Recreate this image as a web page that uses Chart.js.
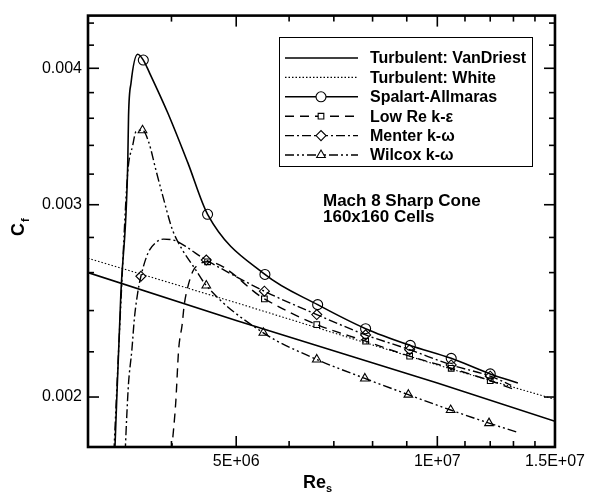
<!DOCTYPE html>
<html>
<head>
<meta charset="utf-8">
<script src="https://cdn.jsdelivr.net/npm/chart.js@4.4.1/dist/chart.umd.min.js"></script>
<style>
  html, body { margin: 0; padding: 0; background: #fff; }
</style>
</head>
<body>
<canvas id="chartCf" width="590" height="494"></canvas>
<script>
// axis ticks
const xMajorTicks = [5e6, 1e7, 1.5e7];
const xTickLabels = ['5E+06', '1E+07', '1.5E+07'];
const xMinorTicks = [4e6, 6e6, 7e6, 8e6, 9e6, 1.1e7, 1.2e7, 1.3e7, 1.4e7];
const yMajorTicks = [0.002, 0.003, 0.004];
const yTickLabels = ['0.002', '0.003', '0.004'];
const yMinorTicks = [0.0022, 0.0024, 0.0026, 0.0028, 0.0032, 0.0034, 0.0036, 0.0038, 0.0042, 0.0044];

const seriesNames = ['Turbulent: VanDriest', 'Turbulent: White', 'Spalart-Allmaras', 'Low Re k-\u03b5', 'Menter k-\u03c9', 'Wilcox k-\u03c9'];

// correlations
const vanDriestRe = [3.0e6, 5.0e6, 1.0e7, 1.5e7];
const vanDriestCf = [0.00260, 0.00235, 0.00206, 0.00190];
const whiteRe = [3.0e6, 5.0e6, 1.0e7, 1.5e7];
const whiteCf = [0.00268, 0.00244, 0.00214, 0.00199];

// Spalart-Allmaras
const saRe = [3.29e6, 3.36e6, 3.44e6, 3.45e6, 3.48e6, 3.56e6, 3.63e6, 3.71e6, 3.95e6, 4.23e6, 4.53e6, 5.52e6, 6.62e6, 7.81e6, 9.11e6, 1.049e7, 1.20e7, 1.32e7];
const saCf = [0.00178, 0.00249, 0.00326, 0.00362, 0.00388, 0.00412, 0.00407, 0.00396, 0.00364, 0.00328, 0.00294, 0.00259, 0.00243, 0.00231, 0.00223, 0.00217, 0.00210, 0.00206];
const saMarkRe = [3.63e6, 4.53e6, 5.52e6, 6.62e6, 7.81e6, 9.11e6, 1.049e7, 1.20e7];
const saMarkCf = [0.00407, 0.00294, 0.00259, 0.00243, 0.00231, 0.00223, 0.00217, 0.00210];

// Low Re k-eps
const lowReRe = [4.00e6, 4.06e6, 4.10e6, 4.15e6, 4.18e6, 4.23e6, 4.31e6, 4.42e6, 4.53e6, 5.51e6, 6.60e6, 7.81e6, 9.09e6, 1.049e7, 1.20e7, 1.31e7];
const lowReCf = [0.00178, 0.00198, 0.00221, 0.00233, 0.00243, 0.00252, 0.00261, 0.00265, 0.00266, 0.00246, 0.00233, 0.00225, 0.00218, 0.002125, 0.00207, 0.00203];
const lowReMarkRe = [4.53e6, 5.51e6, 6.60e6, 7.81e6, 9.09e6, 1.049e7, 1.20e7];
const lowReMarkCf = [0.00266, 0.00246, 0.00233, 0.00225, 0.00218, 0.002125, 0.00207];

// Menter k-w
const menterRe = [3.41e6, 3.43e6, 3.45e6, 3.49e6, 3.52e6, 3.56e6, 3.60e6, 3.69e6, 3.79e6, 3.89e6, 4.06e6, 4.23e6, 4.34e6, 4.51e6, 5.51e6, 6.60e6, 7.81e6, 9.09e6, 1.049e7, 1.20e7, 1.29e7];
const menterCf = [0.00178, 0.00193, 0.00206, 0.00221, 0.00236, 0.00249, 0.00258, 0.00271, 0.00277, 0.00279, 0.00278, 0.00274, 0.00271, 0.00267, 0.00250, 0.00238, 0.00228, 0.00221, 0.00214, 0.00209, 0.00205];
const menterMarkRe = [3.60e6, 4.51e6, 5.51e6, 6.60e6, 7.81e6, 9.09e6, 1.049e7, 1.20e7];
const menterMarkCf = [0.00258, 0.00267, 0.00250, 0.00238, 0.00228, 0.00221, 0.00214, 0.00209];

// Wilcox k-w
const wilcoxRe = [3.28e6, 3.36e6, 3.44e6, 3.50e6, 3.54e6, 3.62e6, 3.70e6, 3.79e6, 3.88e6, 4.01e6, 4.15e6, 4.34e6, 4.51e6, 5.49e6, 6.60e6, 7.79e6, 9.05e6, 1.047e7, 1.195e7, 1.316e7];
const wilcoxCf = [0.00178, 0.00244, 0.00321, 0.00340, 0.00350, 0.00351, 0.00342, 0.00323, 0.00306, 0.00285, 0.00273, 0.00262, 0.00253, 0.00229, 0.002165, 0.00208, 0.00201, 0.001946, 0.001893, 0.001857];
const wilcoxMarkRe = [3.62e6, 4.51e6, 5.49e6, 6.60e6, 7.79e6, 9.05e6, 1.047e7, 1.195e7];
const wilcoxMarkCf = [0.00351, 0.00253, 0.00229, 0.002165, 0.00208, 0.00201, 0.001946, 0.001893];

const FONT = '"Liberation Sans", Arial, Helvetica, sans-serif';

function pts(xs, ys) {
  return xs.map((x, i) => ({ x: x, y: ys[i] }));
}

// line styles, also used by the legend
const styles = [
  { width: 1.6, dash: [], marker: null },
  { width: 1.1, dash: [1.5, 2], marker: null },
  { width: 1.6, dash: [], marker: 'circle' },
  { width: 1.4, dash: [9, 6], marker: 'rect' },
  { width: 1.4, dash: [9, 3, 2, 3], marker: 'rectRot' },
  { width: 1.4, dash: [9, 3, 2, 3, 2, 3], marker: 'triangle' }
];

const curves = [
  [vanDriestRe, vanDriestCf],
  [whiteRe, whiteCf],
  [saRe, saCf],
  [lowReRe, lowReCf],
  [menterRe, menterCf],
  [wilcoxRe, wilcoxCf]
];
const markers = [
  null, null,
  [saMarkRe, saMarkCf],
  [lowReMarkRe, lowReMarkCf],
  [menterMarkRe, menterMarkCf],
  [wilcoxMarkRe, wilcoxMarkCf]
];

const datasets = [];
curves.forEach((c, i) => {
  datasets.push({
    label: seriesNames[i],
    data: pts(c[0], c[1]),
    showLine: true,
    borderColor: '#000',
    borderWidth: styles[i].width,
    borderDash: styles[i].dash,
    pointRadius: 0,
    cubicInterpolationMode: i > 1 ? 'monotone' : 'default',
    clip: 0
  });
});
markers.forEach((m, i) => {
  if (!m) return;
  datasets.push({
    label: seriesNames[i] + ' markers',
    data: pts(m[0], m[1]),
    showLine: false,
    pointStyle: styles[i].marker,
    pointRadius: styles[i].marker === 'rect' ? 4 : 5,
    pointBorderColor: '#000',
    pointBorderWidth: 1.1,
    pointBackgroundColor: 'rgba(255,255,255,0)',
    clip: 0
  });
});

function drawMarker(ctx, style, x, y) {
  Chart.helpers.drawPoint(ctx, { pointStyle: style, radius: style === 'rect' ? 4 : 5, rotation: 0, borderWidth: 1.1 }, x, y);
}

const frameAndTicks = {
  id: 'frameAndTicks',
  afterDatasetsDraw(chart) {
    const { ctx, chartArea: a, scales: { x, y } } = chart;
    ctx.save();
    ctx.strokeStyle = '#000';
    ctx.setLineDash([]);
    ctx.lineWidth = 1.6;
    const tick = (x1, y1, x2, y2) => { ctx.beginPath(); ctx.moveTo(x1, y1); ctx.lineTo(x2, y2); ctx.stroke(); };
    xMajorTicks.concat(xMinorTicks).forEach(v => {
      const px = x.getPixelForValue(v);
      const len = xMajorTicks.includes(v) ? 11 : 6;
      tick(px, a.bottom, px, a.bottom - len);
      tick(px, a.top, px, a.top + len);
    });
    yMajorTicks.concat(yMinorTicks).forEach(v => {
      const py = y.getPixelForValue(v);
      const len = yMajorTicks.includes(v) ? 11 : 6;
      tick(a.left, py, a.left + len, py);
      tick(a.right, py, a.right - len, py);
    });
    ctx.lineWidth = 2.6;
    ctx.strokeRect(a.left, a.top, a.right - a.left, a.bottom - a.top);

    // legend box
    const lx = 279, ly = 37, lw = 253, lh = 129;
    ctx.lineWidth = 1;
    ctx.strokeRect(lx + 0.5, ly + 0.5, lw, lh);
    ctx.font = 'bold 16px ' + FONT;
    ctx.fillStyle = '#000';
    ctx.textBaseline = 'middle';
    ctx.textAlign = 'left';
    seriesNames.forEach((name, i) => {
      const yy = 58 + i * 19.4;
      ctx.lineWidth = styles[i].width;
      ctx.setLineDash(styles[i].dash);
      tick(285, yy, 358, yy);
      ctx.setLineDash([]);
      if (styles[i].marker) {
        ctx.lineWidth = 1.1;
        ctx.fillStyle = '#fff';
        drawMarker(ctx, styles[i].marker, 321, yy);
        ctx.fillStyle = '#000';
      }
      ctx.fillText(name, 370, yy + 1);
    });

    // annotation
    ctx.font = 'bold 17px ' + FONT;
    ctx.textBaseline = 'alphabetic';
    ctx.fillText('Mach 8 Sharp Cone', 323, 206);
    ctx.fillText('160x160 Cells', 323, 222);

    // axis titles
    ctx.font = 'bold 18px ' + FONT;
    ctx.fillText('Re', 303, 488);
    ctx.font = 'bold 11px ' + FONT;
    ctx.fillText('s', 326, 492);
    ctx.save();
    ctx.translate(24, 236);
    ctx.rotate(-Math.PI / 2);
    ctx.font = 'bold 18px ' + FONT;
    ctx.fillText('C', 0, 0);
    ctx.font = 'bold 11px ' + FONT;
    ctx.fillText('f', 14, 5);
    ctx.restore();
    ctx.restore();
  }
};

const ctxCf = document.getElementById('chartCf').getContext('2d');
const chartCf = new Chart(ctxCf, {
  type: 'scatter',
  data: { datasets: datasets },
  options: {
    responsive: false,
    animation: false,
    devicePixelRatio: 1,
    layout: { padding: { top: 12, right: 32, left: 0, bottom: 0 } },
    scales: {
      x: {
        type: 'logarithmic',
        min: 3e6,
        max: 1.5e7,
        grid: { display: false, drawTicks: false },
        border: { display: false },
        afterBuildTicks: s => { s.ticks = xMajorTicks.map(v => ({ value: v })); },
        afterFit: s => { s.height = 47; },
        ticks: {
          autoSkip: false,
          maxRotation: 0,
          padding: 5,
          color: '#000',
          font: { family: FONT, size: 16 },
          callback: v => xTickLabels[xMajorTicks.indexOf(v)]
        }
      },
      y: {
        type: 'logarithmic',
        min: 0.0018,
        max: 0.00447,
        grid: { display: false, drawTicks: false },
        border: { display: false },
        afterBuildTicks: s => { s.ticks = yMajorTicks.map(v => ({ value: v })); },
        afterFit: s => { s.width = 88; },
        ticks: {
          autoSkip: false,
          padding: 6,
          color: '#000',
          font: { family: FONT, size: 16 },
          callback: v => yTickLabels[yMajorTicks.indexOf(v)]
        }
      }
    },
    plugins: {
      legend: { display: false },
      tooltip: { enabled: false }
    }
  },
  plugins: [frameAndTicks]
});
</script>
</body>
</html>
